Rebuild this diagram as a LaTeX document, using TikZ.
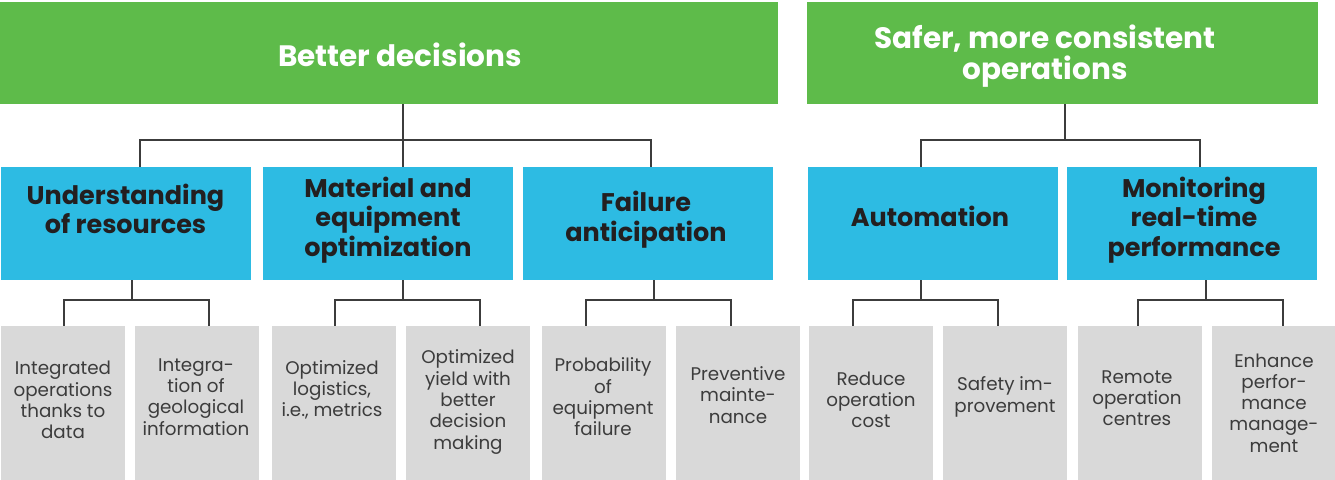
\documentclass[tikz,border=0pt]{standalone}
\usepackage{fontspec}
\setmainfont{Poppins}
\definecolor{hgreen}{RGB}{94,187,74}
\definecolor{hblue}{RGB}{45,187,227}
\definecolor{hgray}{RGB}{217,217,217}
\definecolor{htext}{RGB}{60,60,60}
\definecolor{hdark}{RGB}{35,31,32}
\definecolor{hline}{RGB}{60,60,60}
\begin{document}
\begin{tikzpicture}[x=1pt,y=-1pt,
  greenbox/.style={fill=hgreen,draw=none,inner sep=0pt},
  bluebox/.style={fill=hblue,draw=none,inner sep=0pt,minimum width=250pt,minimum height=113pt},
  graybox/.style={fill=hgray,draw=none,inner sep=0pt,minimum width=124pt,minimum height=160pt},
  greentxt/.style={text=white,align=center,font=\fontsize{29.5}{31}\selectfont\bfseries},
  bluetxt/.style={text=hdark,align=center,font=\fontsize{25.5}{29.5}\selectfont\bfseries},
  graytxt/.style={text=htext,align=center,font=\fontsize{18.3}{21.3}\selectfont},
  conn/.style={draw=hline,line width=1.4pt}]
\useasboundingbox (0,0) rectangle (1335,479);
% green headers
\node[greenbox,minimum width=778pt,minimum height=102pt] (g1) at (389,53) {};
\node[greenbox,minimum width=511pt,minimum height=102pt] (g2) at (1062.5,53) {};
\node[greentxt] (tg1) at (400,55) {Better decisions};
\node[greentxt] (tg2) at (1045,56) {Safer, more consistent\\operations};
% blue headers
\node[bluebox] (b1) at (125.5,223.5) {};
\node[bluebox] (b2) at (388,223.5) {};
\node[bluebox] (b3) at (648,223.5) {};
\node[bluebox] (b4) at (933,223.5) {};
\node[bluebox] (b5) at (1192,223.5) {};
\node[bluetxt] (tb1) at (125.5,209) {Understanding\\of resources};
\node[bluetxt] (tb2) at (388,220) {Material and\\equipment\\optimization};
\node[bluetxt] (tb3) at (646,219.5) {Failure\\anticipation};
\node[bluetxt] (tb4) at (930,216) {Automation};
\node[bluetxt] (tb5) at (1194,220) {Monitoring\\real-time\\performance};
% gray boxes
\node[graybox] (c1) at (63,406) {};
\node[graybox] (c2) at (197,406) {};
\node[graybox] (c3) at (334,406) {};
\node[graybox] (c4) at (468,406) {};
\node[graybox] (c5) at (604,406) {};
\node[graybox] (c6) at (738,406) {};
\node[graybox] (c7) at (871,406) {};
\node[graybox] (c8) at (1005,406) {};
\node[graybox] (c9) at (1140,406) {};
\node[graybox] (c10) at (1274,406) {};
\node[graytxt] (tc1) at (63,400) {Integrated\\operations\\thanks to\\data};
\node[graytxt] (tc2) at (196,397) {Integra-\\tion of\\geological\\information};
\node[graytxt] (tc3) at (332,390) {Optimized\\logistics,\\i.e., metrics};
\node[graytxt] (tc4) at (468,402) {Optimized\\yield with\\better\\decision\\making};
\node[graytxt] (tc5) at (603,397) {Probability\\of\\equipment\\failure};
\node[graytxt] (tc6) at (738,395) {Preventive\\mainte-\\nance};
\node[graytxt] (tc7) at (871,400) {Reduce\\operation\\cost};
\node[graytxt] (tc8) at (1005,397) {Safety im-\\provement};
\node[graytxt] (tc9) at (1137,398) {Remote\\operation\\centres};
\node[graytxt] (tc10) at (1274,403) {Enhance\\perfor-\\mance\\manage-\\ment};
% junction coordinates
\coordinate (j1) at (403,140);
\coordinate (j2) at (1065,140);
\coordinate (k1) at (132,300);
\coordinate (k2) at (403,300);
\coordinate (k3) at (654,300);
\coordinate (k4) at (921,300);
\coordinate (k5) at (1206,300);
% top connectors
\draw[conn] (g1.south -| j1) -- (j1);
\draw[conn] (b1.north -| 140,0) |- (j1) -| (b3.north -| 651,0);
\draw[conn] (j1) -- (b2.north -| j1);
\draw[conn] (g2.south -| j2) -- (j2);
\draw[conn] (b4.north -| 921,0) |- (j2) -| (b5.north -| 1200,0);
% bottom connectors
\draw[conn] (b1.south -| k1) -- (k1);
\draw[conn] (c1.north -| 64,0) |- (k1) -| (c2.north -| 209,0);
\draw[conn] (b2.south -| k2) -- (k2);
\draw[conn] (c3.north -| 335,0) |- (k2) -| (c4.north -| 480,0);
\draw[conn] (b3.south -| k3) -- (k3);
\draw[conn] (c5.north -| 586,0) |- (k3) -| (c6.north -| 731,0);
\draw[conn] (b4.south -| k4) -- (k4);
\draw[conn] (c7.north -| 853,0) |- (k4) -| (c8.north -| 998,0);
\draw[conn] (b5.south -| k5) -- (k5);
\draw[conn] (c9.north -| 1138,0) |- (k5) -| (c10.north -| 1283,0);
\end{tikzpicture}
\end{document}
